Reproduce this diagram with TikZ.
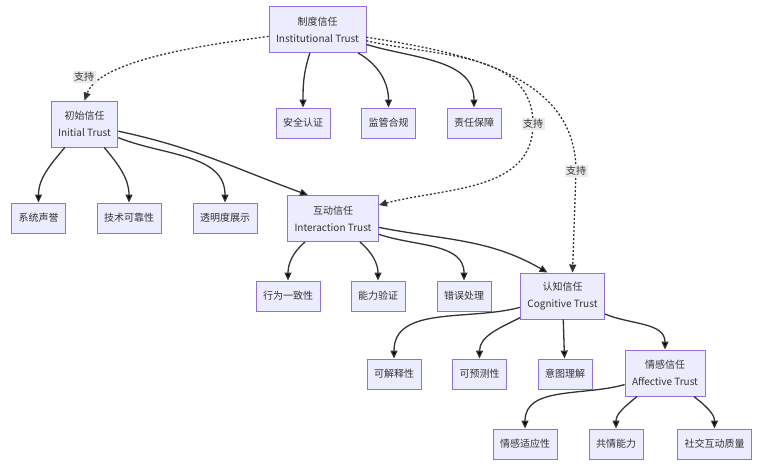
\documentclass[tikz,border=0pt]{standalone}
\usepackage{fontspec}
\setmainfont{Noto Sans CJK SC}
\usepackage{xcolor}
\usetikzlibrary{arrows.meta}

\definecolor{boxfill}{HTML}{ECECFF}
\definecolor{boxline}{HTML}{9370DB}
\definecolor{ink}{HTML}{333333}
\definecolor{tagfill}{HTML}{EAEAEA}

\begin{document}
\begin{tikzpicture}[x=1pt,y=1pt,>={Triangle[length=8pt,width=7pt]},
    font=\fontsize{10}{17}\selectfont,text=ink]
  \tikzstyle{leaf}=[draw=boxline,fill=boxfill,line width=0.9pt,inner xsep=7pt,inner ysep=0pt,minimum height=30pt]
  \tikzstyle{tier}=[leaf,align=center,minimum height=46pt]
  \tikzstyle{tag}=[fill=tagfill,inner sep=1.5pt]
  \tikzstyle{link}=[draw=ink,line width=1.3pt]
  \tikzstyle{support}=[link,dash pattern=on 2pt off 2pt]

  \useasboundingbox (0,0) rectangle (783,-473);

  % trust layers
  \node[tier](inst) at (317.5,-29.5) {制度信任\\Institutional Trust};
  \node[tier](init) at (84.5,-124) {初始信任\\Initial Trust};
  \node[tier](inter) at (333,-218.5) {互动信任\\Interaction Trust};
  \node[tier](cogn) at (562.5,-296) {认知信任\\Cognitive Trust};
  \node[tier](affe) at (665,-373) {情感信任\\Affective Trust};

  % factors
  \node[leaf](secur) at (303,-123) {安全认证};
  \node[leaf](regul) at (388.5,-123) {监管合规};
  \node[leaf](liab) at (474,-123) {责任保障};
  \node[leaf](repu) at (38.5,-218) {系统声誉};
  \node[leaf](relia) at (129,-218) {技术可靠性};
  \node[leaf](transp) at (225,-218) {透明度展示};
  \node[leaf](consi) at (288,-296) {行为一致性};
  \node[leaf](abil) at (378,-296) {能力验证};
  \node[leaf](error) at (464,-296) {错误处理};
  \node[leaf](expl) at (394,-374) {可解释性};
  \node[leaf](pred) at (479.5,-374) {可预测性};
  \node[leaf](intent) at (565,-374) {意图理解};
  \node[leaf](adapt) at (525,-444) {情感适应性};
  \node[leaf](empat) at (616,-444) {共情能力};
  \node[leaf](social) at (714.5,-444) {社交互动质量};

  \path[link,->]
  (inst)  edge[out=-108,in=90]  (secur)
          edge[out=-30,in=90]   (regul)
          edge[out=-17,in=90]   (liab)
  (init)  edge[out=-130,in=90]  (repu)
          edge[out=-50,in=90]   (relia)
          edge[out=-22,in=90]   (transp)
          edge[out=-12,in=160]  ([xshift=-25pt]inter.north)
  (inter) edge[out=-140,in=90]  (consi)
          edge[out=-41,in=90]   (abil)
          edge[out=-19,in=90]   (error)
          edge[out=-11,in=150]  ([xshift=-15pt]cogn.north)
  (cogn)  edge[out=195,in=90]   (expl)
          edge[out=207,in=90]   (pred)
          edge                  (intent)
          edge[out=-23,in=90]   (affe)
  (affe)  edge[out=196,in=90]   (adapt)
          edge[out=-140,in=90]  (empat)
          edge[out=-39,in=90]   (social);

  % support links
  \coordinate (t1) at (84,-77);
  \coordinate (t2) at (533,-124);
  \coordinate (t3) at (576,-171);
  \draw[support,->] (inst) to[out=188,in=70,looseness=0.6] (init.north);
  \draw[support,->] (inst) to[out=-13,in=90] (t2)
    to[out=-90,in=15] ([yshift=-10pt]inter.north east);
  \draw[support,->] (inst) to[out=-9,in=90] (t3) -- ([xshift=10pt]cogn.north);

  \node[tag](sup1) at (t1) {支持};
  \node[tag](sup2) at (t2) {支持};
  \node[tag](sup3) at (t3) {支持};
\end{tikzpicture}
\end{document}
